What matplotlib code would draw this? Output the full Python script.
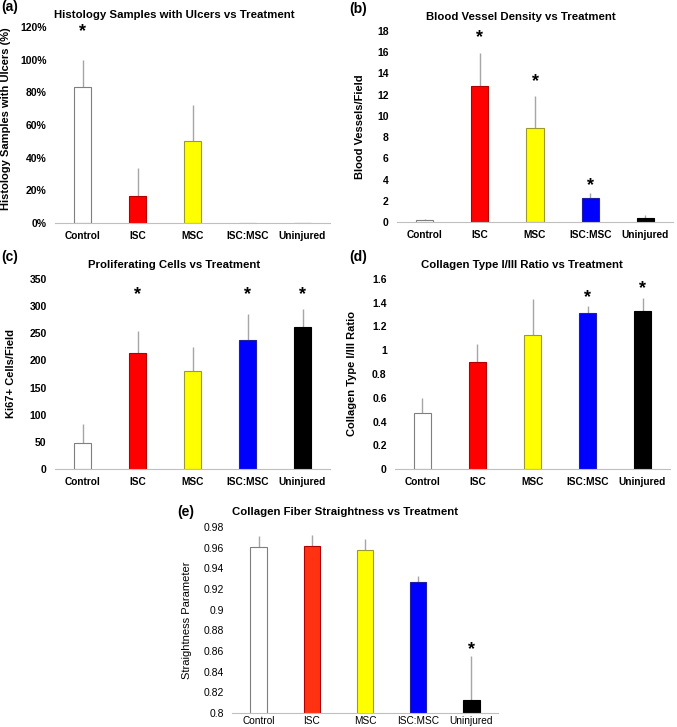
import matplotlib
matplotlib.use('Agg')
import matplotlib.pyplot as plt
from matplotlib.ticker import FuncFormatter, MultipleLocator

plt.rcParams['font.family'] = ['Liberation Sans', 'DejaVu Sans']

groups = ['Control', 'ISC', 'MSC', 'ISC:MSC', 'Uninjured']

# (a) ulcers, percent
ulcer_vals = [83.3, 16.7, 50.0, 0, 0]
ulcer_err = [16.7, 16.7, 22.4, 0, 0]
ulcer_star = [117, None, None, None, None]

# (b) blood vessels per field
vessel_vals = [0.15, 12.8, 8.9, 2.3, 0.4]
vessel_err = [0.1, 3.1, 3.0, 0.4, 0.3]
vessel_star = [None, 17.4, 13.2, 3.4, None]

# (c) Ki67+ cells per field
ki67_vals = [48, 213, 180, 237, 262]
ki67_err = [35, 42, 45, 48, 33]
ki67_star = [None, 322, None, 322, 322]

# (d) collagen I/III ratio
ratio_vals = [0.47, 0.90, 1.13, 1.31, 1.33]
ratio_err = [0.13, 0.15, 0.30, 0.06, 0.11]
ratio_star = [None, None, None, 1.44, 1.52]

# (e) fiber straightness
straight_vals = [0.961, 0.962, 0.958, 0.927, 0.813]
straight_err = [0.010, 0.010, 0.010, 0.006, 0.042]
straight_star = [None, None, None, None, 0.861]

colors = ['white', '#FF0000', '#FFFF00', '#0000FF', '#000000']
edges = ['#7F7F7F', '#B00000', '#9A9A30', '#2020A0', '#000000']
colors_e = ['white', '#FF3311', '#FFFF00', '#0000FF', '#000000']

W, H = 677, 727
fig = plt.figure(figsize=(W / 100, H / 100), dpi=100)


def box(l, t, r, b):
    return [l / W, 1 - b / H, (r - l) / W, (b - t) / H]


def fmt_g(v, pos):
    return '%g' % round(v, 3)


def fmt_pct(v, pos):
    return '%d%%' % round(v)


def panel(px, vals, errs, stars, ylim, step, formatter, title, ylabel, tag,
          title_xy, tag_xy, ylab_xy, bold=True, cols=colors, xpad=6):
    l, t, r, b = px
    ax = fig.add_axes(box(l, t, r, b))
    x = range(len(groups))
    low = [0] * len(vals)
    ax.bar(x, vals, width=0.31, color=cols, edgecolor=edges, linewidth=0.8,
           zorder=2)
    ax.errorbar(x, vals, yerr=[low, errs], fmt='none', ecolor='#A6A6A6',
                elinewidth=1, capsize=0, zorder=1)
    for i, s in enumerate(stars):
        if s is not None:
            ax.text(i, s, '*', ha='center', va='center', fontsize=13,
                    fontweight='bold')
    ax.set_xlim(-0.5, len(groups) - 0.5)
    ax.set_ylim(*ylim)
    ax.yaxis.set_major_locator(MultipleLocator(step))
    ax.yaxis.set_major_formatter(FuncFormatter(formatter))
    for sp in ['top', 'right', 'left']:
        ax.spines[sp].set_visible(False)
    ax.spines['bottom'].set_color('#BFBFBF')
    ax.spines['bottom'].set_linewidth(0.8)
    ax.tick_params(axis='y', length=0, labelsize=7.5, pad=6)
    ax.tick_params(axis='x', length=0, labelsize=7.3, pad=xpad)
    ax.set_xticks(list(x))
    ax.set_xticklabels(groups)
    w = 'bold' if bold else 'normal'
    for lab in ax.get_xticklabels() + ax.get_yticklabels():
        lab.set_fontweight(w)
    ax.set_ylabel(ylabel, fontsize=8, fontweight=w)
    ax.yaxis.set_label_coords((ylab_xy[0] - l) / (r - l),
                              (b - ylab_xy[1]) / (b - t))
    fig.text(title_xy[0] / W, 1 - title_xy[1] / H, title, ha='center',
             va='center', fontsize=8.2, fontweight='bold')
    fig.text(tag_xy[0] / W, 1 - tag_xy[1] / H, tag, ha='left', va='center',
             fontsize=10, fontweight='bold')
    return ax


panel((55, 27, 330, 223), ulcer_vals, ulcer_err, ulcer_star, (0, 120), 20,
      fmt_pct, 'Histology Samples with Ulcers vs Treatment',
      'Histology Samples with Ulcers (%)', '(a)', (174, 15), (1, 7), (11, 119))

panel((397, 31, 673, 222), vessel_vals, vessel_err, vessel_star, (0, 18), 2,
      fmt_g, 'Blood Vessel Density vs Treatment', 'Blood Vessels/Field',
      '(b)', (521, 17), (349, 9), (365, 127))

panel((55, 279, 330, 469), ki67_vals, ki67_err, ki67_star, (0, 350), 50,
      fmt_g, 'Proliferating Cells vs Treatment', 'Ki67+ Cells/Field',
      '(c)', (174, 265), (1, 257), (16, 374))

panel((395, 279, 670, 469), ratio_vals, ratio_err, ratio_star, (0, 1.6), 0.2,
      fmt_g, 'Collagen Type I/III Ratio vs Treatment',
      'Collagen Type I/III Ratio', '(d)', (522, 265), (349, 257), (357, 374))

panel((232, 527, 498, 713), straight_vals, straight_err, straight_star,
      (0.8, 0.98), 0.02, fmt_g, 'Collagen Fiber Straightness vs Treatment',
      'Straightness Parameter', '(e)', (345, 512), (177, 512), (192, 620),
      bold=False, cols=colors_e, xpad=2)

fig.savefig('out.png', dpi=100)
